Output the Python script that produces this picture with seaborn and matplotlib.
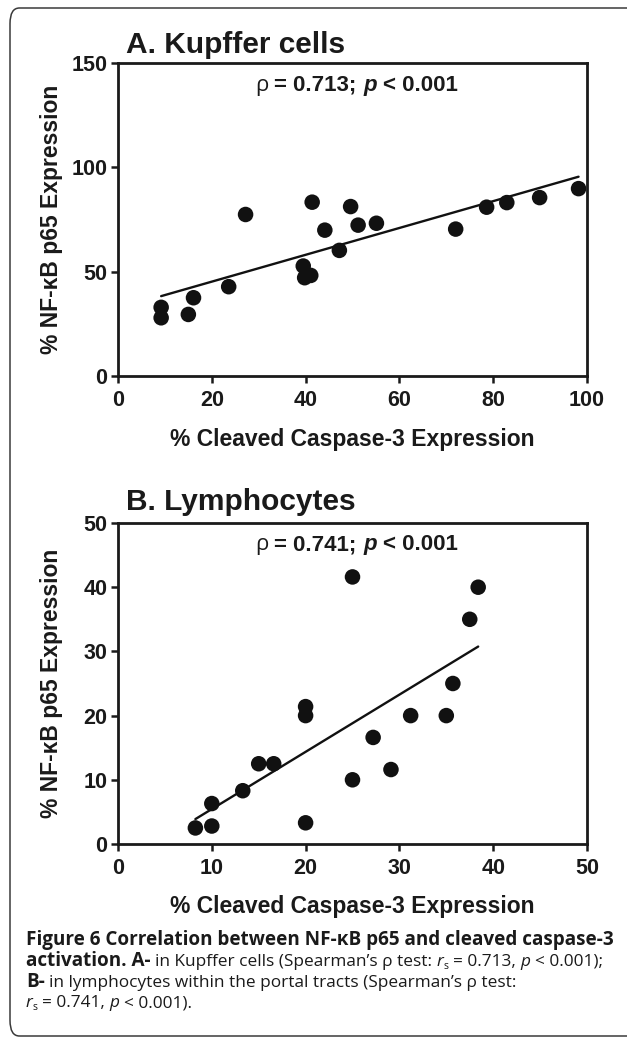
import matplotlib
matplotlib.use("Agg")
import matplotlib.pyplot as plt
import seaborn as sns
import pandas as pd
from matplotlib.patches import FancyBboxPatch

# Panel A - Kupffer cells
kupffer_casp3 = [9.2, 9.2, 15.0, 16.1, 23.6, 27.2, 39.5, 39.8, 41.1, 41.4,
                 44.1, 47.2, 49.6, 51.2, 55.1, 72.0, 78.6, 82.9, 89.9, 98.2]
kupffer_nfkb = [32.9, 27.9, 29.5, 37.5, 42.8, 77.4, 52.7, 47.1, 48.2, 83.3,
                69.9, 60.2, 81.2, 72.3, 73.2, 70.4, 80.9, 83.1, 85.5, 89.8]

# Panel B - lymphocytes
lympho_casp3 = [8.25, 10.0, 10.0, 13.3, 15.0, 16.6, 20.0, 20.0, 20.0, 25.0,
                25.0, 27.2, 29.1, 31.2, 35.0, 35.7, 37.5, 38.4]
lympho_nfkb = [2.5, 2.8, 6.3, 8.3, 12.5, 12.5, 21.4, 20.0, 3.3, 41.6,
               10.0, 16.6, 11.6, 20.0, 20.0, 25.0, 35.0, 40.0]

xticks_a = [0, 20, 40, 60, 80, 100]
yticks_a = [0, 50, 100, 150]
xticks_b = [0, 10, 20, 30, 40, 50]
yticks_b = [0, 10, 20, 30, 40, 50]

df_a = pd.DataFrame({"casp3": kupffer_casp3, "nfkb": kupffer_nfkb})
df_b = pd.DataFrame({"casp3": lympho_casp3, "nfkb": lympho_nfkb})

sns.set_theme(style="ticks")
SANS = ["Liberation Sans", "DejaVu Sans"]
CAPF = ["Open Sans", "DejaVu Sans"]
plt.rcParams["font.family"] = SANS
plt.rcParams["font.weight"] = "bold"

W, H = 627, 1043
INK = "#1a1a1a"
fig = plt.figure(figsize=(W / 100, H / 100), dpi=100)
r = fig.canvas.get_renderer()


def box(left, top, right, bottom):
    return [left / W, 1 - bottom / H, (right - left) / W, (bottom - top) / H]


def adv(s, **kw):
    # horizontal advance of a string, spaces included
    a = fig.text(0, 0, "." + s + ".", **kw)
    b = fig.text(0, 0, "..", **kw)
    w = a.get_window_extent(r).width - b.get_window_extent(r).width
    a.remove()
    b.remove()
    return w


def runs(x, y, parts):
    # parts: (text, kwargs, baseline shift in px)
    for s, kw, dy in parts:
        lead = len(s) - len(s.lstrip(" "))
        if s.strip():
            fig.text((x + adv(" " * lead, **kw)) / W, 1 - (y + dy) / H, s.strip(),
                     va="baseline", ha="left", color=INK, **kw)
        x += adv(s, **kw)


def panel(rect, df, xt, yt, xlab_y):
    ax = fig.add_axes(rect)
    sns.regplot(data=df, x="casp3", y="nfkb", ax=ax, ci=None, truncate=True,
                scatter_kws=dict(s=125, color="#111111", edgecolor="none", alpha=1),
                line_kws=dict(color="#111111", lw=1.7))
    ax.set_xlim(xt[0], xt[-1])
    ax.set_ylim(yt[0], yt[-1])
    ax.set_xticks(xt)
    ax.set_yticks(yt)
    for sp in ax.spines.values():
        sp.set_visible(True)
        sp.set_linewidth(2)
        sp.set_color(INK)
    ax.tick_params(direction="out", length=5, width=1.8, color=INK,
                   labelsize=15.5, labelcolor=INK)
    ax.tick_params(axis="x", pad=5)
    ax.tick_params(axis="y", pad=2.5)
    ax.set_xlabel("% Cleaved Caspase-3 Expression", fontsize=16.5,
                  fontweight="bold", color=INK)
    ax.set_ylabel("% NF-\u03baB p65 Expression", fontsize=16.5,
                  fontweight="bold", color=INK)
    ax.xaxis.set_label_coords(0.5, xlab_y)
    ax.yaxis.set_label_coords(-0.118, 0.5)
    return ax


ax_a = panel(box(118, 63, 587, 376), df_a, xticks_a, yticks_a, -0.165)
ax_b = panel(box(118, 523, 587, 844), df_b, xticks_b, yticks_b, -0.16)

# panel titles
fig.text(126 / W, 1 - 53 / H, "A. Kupffer cells", fontsize=21.5,
         fontweight="bold", color=INK, va="baseline")
fig.text(126 / W, 1 - 510 / H, "B. Lymphocytes", fontsize=21.5,
         fontweight="bold", color=INK, va="baseline")

# rho annotations
bold = dict(family=SANS, fontsize=16, fontweight="bold")
boldit = dict(family=SANS, fontsize=16, fontweight="bold", fontstyle="italic")
rho_kw = dict(family=CAPF, fontsize=16, fontweight="normal")
for yb, val in [(91, "0.713"), (550, "0.741")]:
    runs(255, yb, [("\u03c1", rho_kw, 0), (" = " + val + "; ", bold, 0),
                   ("p", boldit, 0), (" < 0.001", bold, 0)])

# caption
line1 = "Figure 6 Correlation between NF-\u03baB p65 and cleaved caspase-3"
line2 = [("activation. A-", "b", 0), (" in Kupffer cells (Spearman\u2019s \u03c1 test: ", "r", 0),
         ("r", "i", 0), ("s", "s", 3), (" = 0.713, ", "r", 0), ("p", "i", 0),
         (" < 0.001);", "r", 0)]
line3 = [("B-", "b", 0), (" in lymphocytes within the portal tracts (Spearman\u2019s \u03c1 test:", "r", 0)]
line4 = [("r", "i", 0), ("s", "s", 3), (" = 0.741, ", "r", 0), ("p", "i", 0),
         (" < 0.001).", "r", 0)]


def cap_styles(bsize, rsize):
    return {"b": dict(family=CAPF, fontsize=bsize, fontweight="bold"),
            "r": dict(family=CAPF, fontsize=rsize, fontweight="normal"),
            "i": dict(family=CAPF, fontsize=rsize, fontweight="normal", fontstyle="italic"),
            "s": dict(family=CAPF, fontsize=rsize * 0.62, fontweight="normal")}


# bold size fitted to line 1, regular size fitted to the rest of line 2
st = cap_styles(10, 10)
bsize = 10 * 587 / adv(line1, **st["b"])
st = cap_styles(bsize, 10)
head = adv(line2[0][0], **st["b"])
rest = sum(adv(s, **st[k]) for s, k, _ in line2[1:])
rsize = 10 * (576 - head) / rest
st = cap_styles(bsize, rsize)
cx = 26
for y, parts in [(945, [(line1, "b", 0)]), (966, line2), (987, line3), (1007, line4)]:
    runs(cx, y, [(s, st[k], dy) for s, k, dy in parts])

# rounded frame around the figure (right side runs off the page)
fig.add_artist(FancyBboxPatch((10 / W, 1 - 1036 / H), 640 / W, 1028 / H,
                              boxstyle="round,pad=0,rounding_size=0.015",
                              transform=fig.transFigure, fill=False,
                              edgecolor="#3a3a3a", lw=1.1))

fig.savefig("out.png", dpi=100)
